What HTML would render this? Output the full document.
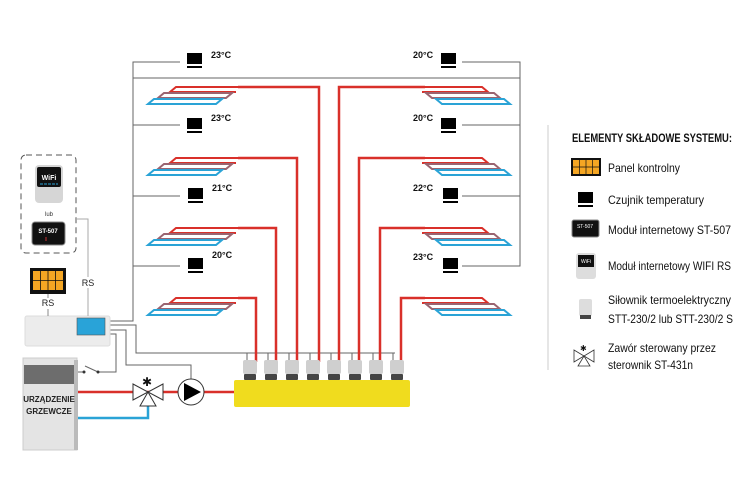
<!DOCTYPE html>
<html><head><meta charset="utf-8"><style>
body{margin:0;background:#fff;}
svg{display:block;font-family:"Liberation Sans",sans-serif;}
.t{font-size:9px;font-weight:bold;fill:#111;}
.l{font-size:12px;fill:#111;}
</style></head><body>
<svg width="750" height="501" viewBox="0 0 750 501">
<defs>
<g id="sens"><rect x="0" y="0" width="15" height="11" fill="#000"/><rect x="0" y="13" width="15" height="2" fill="#000"/></g>
<g id="hl">
 <polyline points="90,0 28,0 22,5 88,5" fill="none" stroke="#d9302a" stroke-width="2"/>
 <polygon points="16,6 84,6 78,11 10,11" fill="none" stroke="#9a6470" stroke-width="2"/>
 <polygon points="6,12 74,12 68,17 0,17" fill="none" stroke="#2aa3d6" stroke-width="2"/>
</g>
<g id="hr">
 <polyline points="0,0 62,0 68,5 2,5" fill="none" stroke="#d9302a" stroke-width="2"/>
 <polygon points="6,6 74,6 80,11 12,11" fill="none" stroke="#9a6470" stroke-width="2"/>
 <polygon points="16,12 84,12 90,17 22,17" fill="none" stroke="#2aa3d6" stroke-width="2"/>
</g>
</defs>
<g fill="none" stroke="#666" stroke-width="1">
<polyline points="180,62 133,62 133,321 110,321"/>
<line x1="133" y1="78" x2="520" y2="78"/>
<line x1="133" y1="125" x2="180" y2="125"/>
<line x1="133" y1="196" x2="180" y2="196"/>
<line x1="133" y1="266" x2="180" y2="266"/>
<polyline points="462,62 520,62 520,266 462,266"/>
<line x1="462" y1="125" x2="520" y2="125"/>
<line x1="462" y1="196" x2="520" y2="196"/>
<polyline points="110,325 136,325 136,353 395,353"/>
<polyline points="110,330 126,330 126,365 191,365 191,379"/>
<polyline points="110,334 116,334 116,372 98,372"/>
<line x1="98" y1="372" x2="85" y2="366"/>
<line x1="85" y1="372" x2="78" y2="372"/>
</g>
<g fill="#333"><circle cx="98" cy="372" r="1.5"/><circle cx="84" cy="372" r="1.5"/></g>
<g stroke="#666" stroke-width="1">
<line x1="247" y1="353" x2="247" y2="360"/><line x1="268" y1="353" x2="268" y2="360"/><line x1="289" y1="353" x2="289" y2="360"/><line x1="310" y1="353" x2="310" y2="360"/><line x1="331" y1="353" x2="331" y2="360"/><line x1="352" y1="353" x2="352" y2="360"/><line x1="373" y1="353" x2="373" y2="360"/><line x1="393" y1="353" x2="393" y2="360"/>
</g>
<g fill="none" stroke="#d9302a" stroke-width="2.5">
<polyline points="238,87 319,87 319,362"/>
<polyline points="238,158 297,158 297,362"/>
<polyline points="238,228 276,228 276,362"/>
<polyline points="238,298 256,298 256,362"/>
<polyline points="425,87 339,87 339,362"/>
<polyline points="425,158 359,158 359,362"/>
<polyline points="425,228 380,228 380,362"/>
<polyline points="425,298 401,298 401,362"/>
<line x1="77" y1="392" x2="235" y2="392"/>
</g>
<use href="#hl" x="148" y="87"/><use href="#hl" x="148" y="158"/><use href="#hl" x="148" y="228"/><use href="#hl" x="148" y="298"/>
<use href="#hr" x="420" y="87"/><use href="#hr" x="420" y="158"/><use href="#hr" x="420" y="228"/><use href="#hr" x="420" y="298"/>
<use href="#sens" x="187" y="53"/><use href="#sens" x="187" y="118"/><use href="#sens" x="188" y="188"/><use href="#sens" x="188" y="258"/>
<use href="#sens" x="441" y="53"/><use href="#sens" x="441" y="118"/><use href="#sens" x="443" y="188"/><use href="#sens" x="443" y="258"/>
<text class="t" x="211" y="58">23°C</text><text class="t" x="211" y="121">23°C</text><text class="t" x="212" y="191">21°C</text><text class="t" x="212" y="258">20°C</text>
<text class="t" x="413" y="58">20°C</text><text class="t" x="413" y="121">20°C</text><text class="t" x="413" y="191">22°C</text><text class="t" x="413" y="260">23°C</text>
<rect x="234" y="380" width="176" height="27" rx="2" fill="#f0dc1e"/>
<g>
<g id="act"><rect x="243" y="360" width="14" height="14" rx="2" fill="#cfcfcf"/><rect x="244" y="374" width="12" height="6" rx="1" fill="#444"/></g>
<use href="#act" x="21"/><use href="#act" x="42"/><use href="#act" x="63"/><use href="#act" x="84"/><use href="#act" x="105"/><use href="#act" x="126"/><use href="#act" x="147"/>
</g>
<polyline points="77,418 148,418 148,402" fill="none" stroke="#2aa3d6" stroke-width="2.5"/>
<g fill="#fff" stroke="#333" stroke-width="1">
<polygon points="133,384 148,392 133,400"/><polygon points="163,384 148,392 163,400"/><polygon points="140,406 148,392 156,406"/>
</g>
<text x="142" y="386" font-size="12" fill="#111">✱</text>
<circle cx="191" cy="392" r="13" fill="#fff" stroke="#333"/>
<polygon points="184,383 201,392 184,401" fill="#000"/>
<rect x="23" y="358" width="54" height="92" fill="#e4e4e4" stroke="#ccc"/>
<rect x="74" y="360" width="4" height="90" fill="#bbb"/>
<rect x="24" y="365" width="50" height="19" fill="#6d6d6d"/>
<text x="49" y="402" font-size="8" font-weight="bold" text-anchor="middle" fill="#222">URZĄDZENIE</text>
<text x="49" y="414" font-size="8" font-weight="bold" text-anchor="middle" fill="#222">GRZEWCZE</text>
<rect x="25" y="316" width="85" height="30" rx="2" fill="#ececec" stroke="#ddd"/>
<rect x="77" y="318" width="28" height="17" fill="#29a3d8" stroke="#555" stroke-width="0.6"/>
<rect x="30" y="268" width="36" height="26" fill="#111"/>
<rect x="33" y="271" width="30" height="19" fill="#f5a623"/>
<g stroke="#111" stroke-width="0.8"><line x1="40.5" y1="271" x2="40.5" y2="290"/><line x1="48" y1="271" x2="48" y2="290"/><line x1="55.5" y1="271" x2="55.5" y2="290"/><line x1="33" y1="280.5" x2="63" y2="280.5"/></g>
<line x1="48" y1="294" x2="48" y2="316" stroke="#888"/>
<rect x="42" y="298" width="12" height="11" fill="#fff"/>
<text x="48" y="306" font-size="9" text-anchor="middle" fill="#222">RS</text>
<rect x="21" y="155" width="55" height="98" rx="5" fill="none" stroke="#555" stroke-dasharray="6,4"/>
<polyline points="76,219 88,219 88,316" fill="none" stroke="#aaa"/>
<rect x="82" y="277" width="12" height="11" fill="#fff"/>
<text x="88" y="286" font-size="9" text-anchor="middle" fill="#222">RS</text>
<rect x="35" y="165" width="28" height="38" rx="4" fill="#d6d6d6"/>
<rect x="37" y="167" width="24" height="20" rx="2" fill="#111"/>
<text x="49" y="180" font-size="7" font-weight="bold" text-anchor="middle" fill="#fff">WiFi</text>
<line x1="40" y1="184" x2="58" y2="184" stroke="#29a3d8" stroke-dasharray="3,1"/>
<text x="49" y="216" font-size="6" text-anchor="middle" fill="#333">lub</text>
<rect x="32" y="222" width="33" height="23" rx="3" fill="#111" stroke="#888"/>
<text x="48" y="233" font-size="6" font-weight="bold" text-anchor="middle" fill="#fff">ST-507</text>
<line x1="46" y1="237" x2="46" y2="241" stroke="#c33"/>
<line x1="548" y1="125" x2="548" y2="370" stroke="#ccc"/>
<text x="572" y="142" font-size="12" font-weight="bold" fill="#111" textLength="160" lengthAdjust="spacingAndGlyphs">ELEMENTY SKŁADOWE SYSTEMU:</text>
<rect x="571" y="158" width="30" height="18" fill="#111"/><rect x="573" y="160" width="26" height="14" fill="#f5a623"/>
<g stroke="#111" stroke-width="0.7"><line x1="579.5" y1="160" x2="579.5" y2="174"/><line x1="586" y1="160" x2="586" y2="174"/><line x1="592.5" y1="160" x2="592.5" y2="174"/><line x1="573" y1="167" x2="599" y2="167"/></g>
<text class="l" x="608" y="172" textLength="72" lengthAdjust="spacingAndGlyphs">Panel kontrolny</text>
<use href="#sens" x="578" y="192"/>
<text class="l" x="608" y="204" textLength="96" lengthAdjust="spacingAndGlyphs">Czujnik temperatury</text>
<rect x="572" y="220" width="27" height="17" rx="2" fill="#111" stroke="#888"/>
<text x="585" y="228" font-size="5" fill="#fff" text-anchor="middle">ST-507</text>
<text class="l" x="608" y="234" textLength="123" lengthAdjust="spacingAndGlyphs">Moduł internetowy ST-507</text>
<rect x="576" y="253" width="20" height="26" rx="3" fill="#ddd"/><rect x="578" y="255" width="16" height="12" fill="#111"/>
<text x="586" y="263" font-size="5" fill="#fff" text-anchor="middle">WiFi</text>
<text class="l" x="608" y="270" textLength="123" lengthAdjust="spacingAndGlyphs">Moduł internetowy WIFI RS</text>
<rect x="579" y="299" width="13" height="17" rx="2" fill="#ddd"/><rect x="580" y="315" width="11" height="4" fill="#444"/>
<text class="l" x="608" y="304" textLength="123" lengthAdjust="spacingAndGlyphs">Siłownik termoelektryczny</text>
<text class="l" x="608" y="323" textLength="125" lengthAdjust="spacingAndGlyphs">STT-230/2 lub STT-230/2 S</text>
<g fill="#fff" stroke="#333" stroke-width="0.8"><polygon points="574,350 584,356 574,362"/><polygon points="594,350 584,356 594,362"/><polygon points="578,366 584,356 590,366"/></g>
<text x="580" y="351" font-size="8" fill="#111">✱</text>
<text class="l" x="608" y="352" textLength="108" lengthAdjust="spacingAndGlyphs">Zawór sterowany przez</text>
<text class="l" x="608" y="369" textLength="85" lengthAdjust="spacingAndGlyphs">sterownik ST-431n</text>
</svg>
</body></html>
